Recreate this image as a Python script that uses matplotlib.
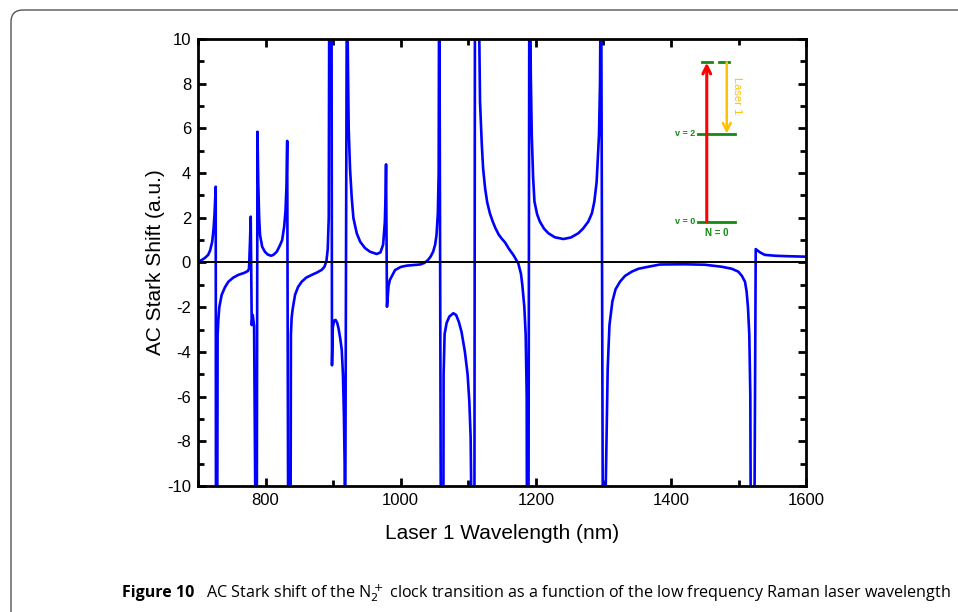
import matplotlib
matplotlib.use("Agg")
import matplotlib.pyplot as plt
from matplotlib.patches import FancyBboxPatch
from matplotlib.transforms import IdentityTransform
from matplotlib.ticker import MultipleLocator

plt.rcParams['font.family'] = ['Liberation Sans', 'DejaVu Sans']
plt.rcParams['axes.unicode_minus'] = False

# AC Stark shift (values beyond +-10 mark the poles)
wavelength = [
    700, 705, 710, 715, 718, 721, 723, 724.5, 726.2, 726.6, 728.3, 729, 730, 731.5, 735, 740, 745,
    752, 760, 768, 774, 775.5, 777, 778, 779.5, 781, 782, 783, 785.8, 786.8,
    788, 789.2, 790.5, 791.8, 795, 799, 803, 808, 812, 816.5, 821, 824.5, 827.5, 829.5, 831, 832,
    833.7, 836.8, 837.5, 838.5, 840, 843.6, 848, 853.5, 860, 868, 876, 883, 887, 890, 892, 893.5,
    894.5, 897.5, 898.3, 899.5, 901.5, 903.6, 906, 908, 910.5, 912.7, 914.5, 916, 917, 917.6,
    920.5, 921.5, 923, 925, 927.5, 930, 935, 940, 947, 954.6, 964.5, 970, 974, 976.5, 977.6, 978.3,
    979.7, 982, 984, 988, 991.6, 1000, 1009, 1028.6, 1035, 1040, 1044, 1048, 1051, 1053, 1055,
    1056.2, 1057, 1059.7, 1063, 1063.5, 1065, 1068, 1072, 1077.9, 1082, 1086, 1090, 1095, 1099,
    1101.6, 1103.5, 1104.5, 1109, 1110, 1114.5, 1117.4, 1120, 1122, 1125, 1128, 1132, 1136, 1140,
    1145, 1150, 1154.4, 1160, 1166.7, 1174, 1178, 1180, 1183, 1185, 1186.5, 1187, 1189, 1190.5,
    1191.4, 1192.5, 1194, 1196, 1198, 1202, 1206, 1212, 1218.5, 1228, 1240.7, 1252, 1263, 1270,
    1277.7, 1283, 1286.6, 1290, 1293.5, 1295, 1296.5, 1299.5, 1302.4, 1303.5, 1306.4, 1309, 1313.3,
    1318, 1324.6, 1332, 1342, 1352, 1366.6, 1383.8, 1420, 1450, 1475, 1490, 1499.7, 1505, 1509.6,
    1512, 1514, 1516, 1517.5, 1518.5, 1523, 1525.5, 1527.5, 1532, 1539, 1555, 1573.8, 1600,
]
shift = [
    0.05, 0.1, 0.2, 0.34, 0.55, 0.93, 1.5, 2.2, 3.39, -15, -15, -3.24, -2.6, -2.0, -1.45, -1.1, -0.86,
    -0.68, -0.55, -0.47, -0.38, -0.26, 1.0, 2.05, -2.8, -2.35, -2.6, -2.85, -15, -15,
    5.85, 3.5, 2.0, 1.23, 0.7, 0.48, 0.36, 0.3, 0.35, 0.48, 0.75, 1.0, 1.6, 2.3, 3.5, 5.44,
    -15, -15, -3.24, -2.5, -2.1, -1.45, -1.1, -0.86, -0.68, -0.56, -0.45, -0.33, -0.2, 0.05, 0.6, 2.0,
    15, 15, -4.6, -2.9, -2.6, -2.57, -2.7, -2.95, -3.4, -3.9, -5.0, -6.9, -9.0, -15,
    15, 10, 6.0, 4.2, 2.9, 1.99, 1.3, 0.93, 0.65, 0.48, 0.38, 0.45, 0.8, 1.8, 3.0, 4.39,
    -1.98, -1.05, -0.78, -0.55, -0.34, -0.2, -0.14, -0.09, -0.02, 0.1, 0.25, 0.48, 0.8, 1.23, 2.2,
    4.0, 15, -15, -15, -5.0, -3.2, -2.7, -2.42, -2.27, -2.35, -2.65, -3.1, -3.99, -5.0,
    -6.23, -7.8, -10.5, -15, 15, 15, 7.2, 5.3, 4.2, 3.3, 2.7, 2.2, 1.85, 1.55,
    1.25, 1.05, 0.9, 0.62, 0.34, -0.04, -0.5, -1.0, -2.0, -3.24, -6.0, -15, -15, 15,
    15, 8.5, 5.7, 3.8, 2.72, 2.15, 1.83, 1.52, 1.31, 1.13, 1.05, 1.12, 1.31, 1.52,
    1.83, 2.2, 2.72, 3.6, 5.7, 8.0, 15, -15, -15, -10, -4.73, -2.8, -1.75,
    -1.2, -0.86, -0.6, -0.41, -0.28, -0.19, -0.09, -0.08, -0.1, -0.19, -0.28, -0.41, -0.6, -0.86,
    -1.3, -2.0, -3.24, -6.0, -15, -15, 0.6, 0.55, 0.45, 0.34, 0.3, 0.28, 0.26,
]

xticks = [800, 1000, 1200, 1400, 1600]
yticks = [-10, -8, -6, -4, -2, 0, 2, 4, 6, 8, 10]

fig = plt.figure(figsize=(9.58, 6.12), dpi=100)
ax = fig.add_axes([0.2067, 0.2059, 0.6347, 0.7304])

ax.plot(wavelength, shift, color='#0000ff', lw=1.9, solid_joinstyle='round')
ax.axhline(0, color='black', lw=1.4, zorder=3)

ax.set_xlim(700, 1600)
ax.set_ylim(-10, 10)
ax.set_xticks(xticks)
ax.set_yticks(yticks)
ax.xaxis.set_minor_locator(MultipleLocator(100))
ax.yaxis.set_minor_locator(MultipleLocator(1))
ax.tick_params(which='both', direction='in', top=True, right=True, width=2, labelsize=12)
ax.tick_params(which='major', length=6, pad=5)
ax.tick_params(which='minor', length=4)
for s in ax.spines.values():
    s.set_linewidth(2)

ax.set_xlabel('Laser 1 Wavelength (nm)', fontsize=15)
ax.set_ylabel('AC Stark Shift (a.u.)', fontsize=15)
ax.xaxis.set_label_coords(0.5, -0.085)
ax.yaxis.set_label_coords(-0.055, 0.5)

# energy level inset (axes fraction)
green = '#138a13'
tr = ax.transAxes
ax.plot([0.8285, 0.845], [0.948, 0.948], color=green, lw=2, transform=tr)
ax.plot([0.857, 0.874], [0.948, 0.948], color=green, lw=2, transform=tr)
ax.plot([0.823, 0.883], [0.7875, 0.7875], color=green, lw=2, transform=tr)
ax.plot([0.823, 0.883], [0.591, 0.591], color=green, lw=2, transform=tr)
ax.annotate('', xy=(0.8367, 0.947), xytext=(0.8367, 0.591), xycoords=tr,
            arrowprops=dict(arrowstyle='->', color='#ff0000', lw=2.2, mutation_scale=14,
                            shrinkA=0, shrinkB=0))
ax.annotate('', xy=(0.8696, 0.7885), xytext=(0.8696, 0.948), xycoords=tr,
            arrowprops=dict(arrowstyle='->', color='#ffc000', lw=1.8, mutation_scale=14,
                            shrinkA=0, shrinkB=0))
ax.text(0.886, 0.873, 'Laser 1', color='#ffc000', fontsize=8, rotation=-90,
        ha='center', va='center', transform=tr)
ax.text(0.818, 0.7875, 'v = 2', color=green, fontsize=6.5, fontweight='bold',
        ha='right', va='center', transform=tr)
ax.text(0.818, 0.591, 'v = 0', color=green, fontsize=6.5, fontweight='bold',
        ha='right', va='center', transform=tr)
ax.text(0.853, 0.567, 'N = 0', color=green, fontsize=7, fontweight='bold',
        ha='center', va='center', transform=tr)

# rounded frame of the figure panel (pixels)
frame = FancyBboxPatch((11, -40), 1100, 642, boxstyle='round,pad=0,rounding_size=12',
                       transform=IdentityTransform(), fill=False, edgecolor='#555555', lw=1.0)
fig.add_artist(frame)

# caption
fig.text(122 / 958, 1 - 593 / 612, 'Figure 10', fontsize=11.5, fontweight='bold',
         family=['Open Sans', 'DejaVu Sans'], va='center', ha='left')
fig.text(206 / 958, 1 - 593 / 612,
         'AC Stark shift of the N$_2^+$ clock transition as a function of the low frequency Raman laser wavelength',
         fontsize=11.6, family=['Open Sans', 'DejaVu Sans'], va='center', ha='left')

fig.savefig('out.png', dpi=100)
